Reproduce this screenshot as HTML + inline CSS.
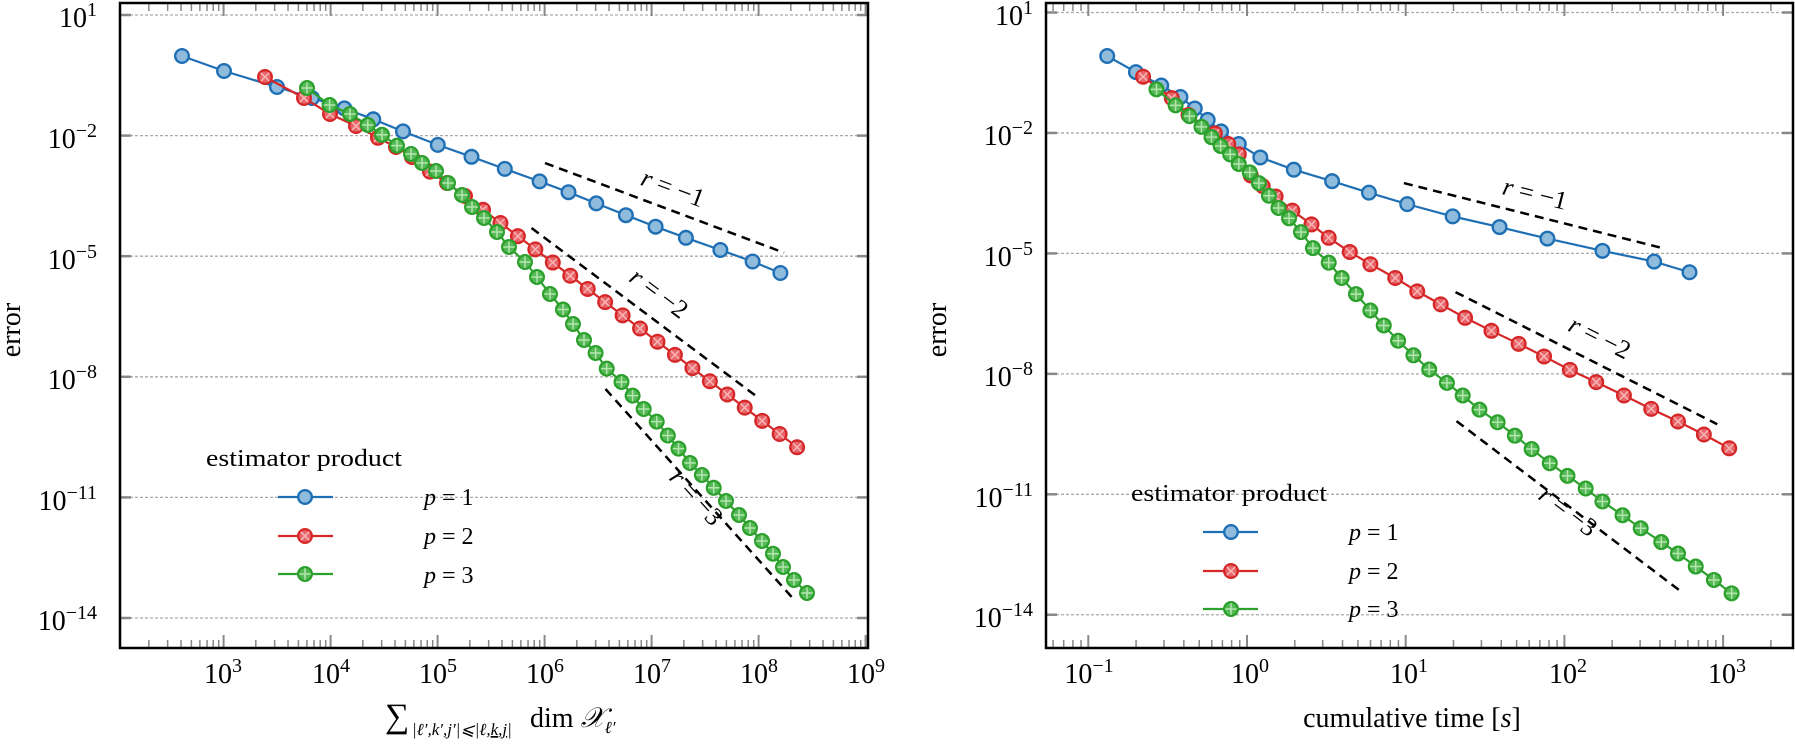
<!DOCTYPE html>
<html><head><meta charset="utf-8"><style>
html,body{margin:0;padding:0;background:#fff;}
svg{display:block;font-family:"Liberation Serif","DejaVu Serif",serif;}
</style></head><body>
<svg id="s" width="1795" height="746" viewBox="0 0 1795 746" xmlns="http://www.w3.org/2000/svg">
<rect width="1795" height="746" fill="#fff"/>
<g id="grid"></g>
<g id="ticks" stroke="#888"></g>
<g id="dash" stroke="#000" stroke-width="2.5" stroke-dasharray="9,6" fill="none"></g>
<g id="data"></g>
<rect x="120" y="3" width="748" height="645" fill="none" stroke="#000" stroke-width="2.5"/>
<rect x="1046" y="3" width="747" height="645" fill="none" stroke="#000" stroke-width="2.5"/>
<g font-size="28" fill="#000">
<!-- left y ticks -->
<text x="97" y="27" text-anchor="end">10<tspan dy="-11" font-size="20">1</tspan></text>
<text x="97" y="148" text-anchor="end">10<tspan dy="-11" font-size="20">−2</tspan></text>
<text x="97" y="269" text-anchor="end">10<tspan dy="-11" font-size="20">−5</tspan></text>
<text x="97" y="389" text-anchor="end">10<tspan dy="-11" font-size="20">−8</tspan></text>
<text x="97" y="510" text-anchor="end">10<tspan dy="-11" font-size="20">−11</tspan></text>
<text x="97" y="630" text-anchor="end">10<tspan dy="-11" font-size="20">−14</tspan></text>
<!-- right y ticks -->
<text x="1033" y="25" text-anchor="end">10<tspan dy="-11" font-size="20">1</tspan></text>
<text x="1033" y="145" text-anchor="end">10<tspan dy="-11" font-size="20">−2</tspan></text>
<text x="1033" y="266" text-anchor="end">10<tspan dy="-11" font-size="20">−5</tspan></text>
<text x="1033" y="386" text-anchor="end">10<tspan dy="-11" font-size="20">−8</tspan></text>
<text x="1033" y="507" text-anchor="end">10<tspan dy="-11" font-size="20">−11</tspan></text>
<text x="1033" y="627" text-anchor="end">10<tspan dy="-11" font-size="20">−14</tspan></text>
<!-- left x ticks -->
<text x="223" y="683" text-anchor="middle">10<tspan dy="-11" font-size="20">3</tspan></text>
<text x="331" y="683" text-anchor="middle">10<tspan dy="-11" font-size="20">4</tspan></text>
<text x="438" y="683" text-anchor="middle">10<tspan dy="-11" font-size="20">5</tspan></text>
<text x="545" y="683" text-anchor="middle">10<tspan dy="-11" font-size="20">6</tspan></text>
<text x="652" y="683" text-anchor="middle">10<tspan dy="-11" font-size="20">7</tspan></text>
<text x="759" y="683" text-anchor="middle">10<tspan dy="-11" font-size="20">8</tspan></text>
<text x="866" y="683" text-anchor="middle">10<tspan dy="-11" font-size="20">9</tspan></text>
<!-- right x ticks -->
<text x="1089" y="683" text-anchor="middle">10<tspan dy="-11" font-size="20">−1</tspan></text>
<text x="1250" y="683" text-anchor="middle">10<tspan dy="-11" font-size="20">0</tspan></text>
<text x="1409" y="683" text-anchor="middle">10<tspan dy="-11" font-size="20">1</tspan></text>
<text x="1568" y="683" text-anchor="middle">10<tspan dy="-11" font-size="20">2</tspan></text>
<text x="1727" y="683" text-anchor="middle">10<tspan dy="-11" font-size="20">3</tspan></text>
<!-- axis labels -->
<text transform="translate(20,330) rotate(-90)" text-anchor="middle">error</text>
<text transform="translate(946,330) rotate(-90)" text-anchor="middle">error</text>
<text x="1412" y="727" text-anchor="middle">cumulative time [<tspan font-style="italic">s</tspan>]</text>
<text x="385" y="727" font-size="34">∑</text>
<text x="412" y="735" font-size="17" font-style="italic">|ℓ′,k′,j′|⩽|ℓ,<tspan text-decoration="underline">k</tspan>,<tspan text-decoration="underline">j</tspan>|</text>
<text x="530" y="727">dim <tspan font-style="italic" font-family="DejaVu Serif">𝒳</tspan><tspan font-size="17" dy="6" font-style="italic">ℓ′</tspan></text>
</g>
<!-- r labels -->
<g font-size="26" fill="#000">
<text transform="translate(670,196) rotate(20.6)" text-anchor="middle"><tspan font-style="italic">r</tspan> = −1</text>
<text transform="translate(654,300) rotate(36.8)" text-anchor="middle"><tspan font-style="italic">r</tspan> = −2</text>
<text transform="translate(690,503) rotate(48)" text-anchor="middle"><tspan font-style="italic">r</tspan> = −3</text>
<text transform="translate(1533,202) rotate(14.1)" text-anchor="middle"><tspan font-style="italic">r</tspan> = −1</text>
<text transform="translate(1596,345) rotate(26.8)" text-anchor="middle"><tspan font-style="italic">r</tspan> = −2</text>
<text transform="translate(1563,518) rotate(37.2)" text-anchor="middle"><tspan font-style="italic">r</tspan> = −3</text>
</g>
<!-- legends -->
<g font-size="24" fill="#000">
<text x="206" y="466" textLength="196" lengthAdjust="spacingAndGlyphs">estimator product</text>
<text x="424" y="505"><tspan font-style="italic">p</tspan> = 1</text>
<text x="424" y="544"><tspan font-style="italic">p</tspan> = 2</text>
<text x="424" y="583"><tspan font-style="italic">p</tspan> = 3</text>
<text x="1131" y="501" textLength="196" lengthAdjust="spacingAndGlyphs">estimator product</text>
<text x="1349" y="540"><tspan font-style="italic">p</tspan> = 1</text>
<text x="1349" y="579"><tspan font-style="italic">p</tspan> = 2</text>
<text x="1349" y="617"><tspan font-style="italic">p</tspan> = 3</text>
</g>
</svg>
<script>
var NS="http://www.w3.org/2000/svg";
function el(p,t,a){var e=document.createElementNS(NS,t);for(var k in a)e.setAttribute(k,a[k]);p.appendChild(e);return e;}
var grid=document.getElementById('grid'),ticks=document.getElementById('ticks'),dash=document.getElementById('dash'),data=document.getElementById('data');
// axes definitions
var A=[{L:120,R:868,T:3,B:648,y0:15,dy:40.2,xm:function(l){return 330.6+(l-4)*107;},lo:2.03,hi:9.02,d0:2,d1:9},
       {L:1046,R:1793,T:3,B:648,y0:12.5,dy:40.15,xm:function(l){return 1247+l*158.7;},lo:-1.27,hi:3.44,d0:-2,d1:4}];
A.forEach(function(a){
  for(var k=1;k>=-14;k-=3){var y=a.y0+(1-k)*a.dy;
    el(grid,'line',{x1:a.L,x2:a.R,y1:y,y2:y,stroke:'#aaa','stroke-width':1.3,'stroke-dasharray':'3,2'});
    el(ticks,'line',{x1:a.L,x2:a.L+11,y1:y,y2:y,'stroke-width':2.5});
    el(ticks,'line',{x1:a.R-11,x2:a.R,y1:y,y2:y,'stroke-width':2.5});}
  for(var d=a.d0;d<=a.d1;d++){for(var m=1;m<=9;m++){var l=d+Math.log10(m);if(l<a.lo||l>a.hi)continue;var x=a.xm(l);var len=m==1?13:8;var w=m==1?2:1.5;
    el(ticks,'line',{x1:x,x2:x,y1:a.T,y2:a.T+len,'stroke-width':w});
    el(ticks,'line',{x1:x,x2:x,y1:a.B-len,y2:a.B,'stroke-width':w});}}
});
var C={b:{s:'#1f6fb4',f:'#8fbbdd',i:null},r:{s:'#d62728',f:'#e8666a',i:'#f7b5b5'},g:{s:'#2ca02c',f:'#55b955',i:'#b5e6b0'}};
function marker(x,y,c){var R=6.8;el(data,'circle',{cx:x,cy:y,r:R,fill:c.f,stroke:c.s,'stroke-width':2.4});
  if(c===C.r){var q=R*0.62;el(data,'path',{d:'M'+(x-q)+' '+(y-q)+'L'+(x+q)+' '+(y+q)+'M'+(x-q)+' '+(y+q)+'L'+(x+q)+' '+(y-q),stroke:c.i,'stroke-width':1.5});}
  if(c===C.g){var q=R*0.85;el(data,'path',{d:'M'+(x-q)+' '+y+'L'+(x+q)+' '+y+'M'+x+' '+(y-q)+'L'+x+' '+(y+q),stroke:c.i,'stroke-width':1.5});}}
function series(p,c){el(data,'polyline',{points:p.map(function(q){return q[0]+','+q[1];}).join(' '),fill:'none',stroke:c.s,'stroke-width':2.2});p.forEach(function(q){marker(q[0],q[1],c);});}
// left
var bl=[[182,56],[224,71],[277,87],[312,98],[344.4,108.4],[373.3,119.3],[403,131.4],[437.8,144.9],[471.5,156.8],[504.8,168.9],[539.6,181.4],[568.5,192.2],[596.3,203.4],[625.9,215.2],[655.6,226.7],[685.9,237.8],[720.4,250],[752.6,261.5],[780.4,273]];
var rl=[[265,77],[304,98],[330,114],[356,126],[378,137.8],[396,147],[412,157],[430,171.6],[447,183],[465,196],[483,209.8]];
for(var i=1;i<=18;i++)rl.push([483+i*17.45,209.8+i*13.19]);
var gl=[[307,88],[329.6,105],[350,114],[367.8,125],[382,134.8],[397,145.6],[411,154],[422,163],[436,171],[448,183],[462,195],[472,207],[484,218],[497,232],[509,247],[525,262],[537,277],[550,294],[563,309.5],[573,324],[584,340],[595.6,353],[606.7,368.6],[621.5,382],[632.6,395.6],[643.7,409],[656.7,421.6],[667.8,435.5],[678.5,448.6],[690,463],[701.9,475],[713.7,487.8],[726,501],[739,515],[750,528],[762,541],[773,553.7],[783,567],[794,580],[807,593]];
// right (zoom coords)
function cv(a){return a.map(function(q){return [1045+q[0]/2.09,30+q[1]/2.613];});}
var br=cv([[130,68],[190,110],[243,145],[283,175],[313,205],[340,235],[368,265],[405,298],[450,333],[520,365],[600,395],[677,425],[757,455],[852,487],[950,515],[1050,545],[1165,577],[1273,605],[1347,633]]);
var rr=cv([[205,122],[265,178],[300,222],[355,270],[383,298],[405,325],[430,380],[455,408],[482,435],[517,472],[557,508],[593,543],[637,580],[680,612],[732,648],[778,683],[827,717],[878,752],[933,786],[990,820],[1043,853],[1097,888],[1152,920],[1210,955],[1267,990],[1323,1023],[1377,1057],[1430,1093]]);
var gr=cv([[233,155],[273,197],[302,225],[327,253],[348,280],[367,303],[387,325],[405,350],[428,372],[447,400],[468,433],[488,465],[510,492],[535,528],[560,570],[593,608],[620,648],[650,690],[680,733],[708,772],[738,812],[770,850],[803,887],[840,922],[873,955],[908,992],[946,1025],[982,1060],[1017,1095],[1055,1132],[1092,1165],[1130,1198],[1165,1232],[1207,1268],[1245,1302],[1288,1338],[1323,1368],[1360,1402],[1398,1437],[1435,1472]]);
// dashed
[[545,163,784,252.7],[531.5,228,757.4,397],[605.5,389,794.4,600],[1403.9,183.1,1659.8,247.4],[1455.5,292.1,1717.2,424.2],[1456.5,421.1,1681.4,591.8]].forEach(function(d){el(dash,'line',{x1:d[0],y1:d[1],x2:d[2],y2:d[3]});});
series(bl,C.b);series(rl,C.r);series(gl,C.g);
series(br,C.b);series(rr,C.r);series(gr,C.g);
// legends
[[278,333,305,497,536,574],[1203,1258,1231,532,571,609]].forEach(function(L){
  [[L[3],C.b],[L[4],C.r],[L[5],C.g]].forEach(function(e){el(data,'line',{x1:L[0],x2:L[1],y1:e[0],y2:e[0],stroke:e[1].s,'stroke-width':2.2});marker(L[2],e[0],e[1]);});});
</script>
</body></html>
